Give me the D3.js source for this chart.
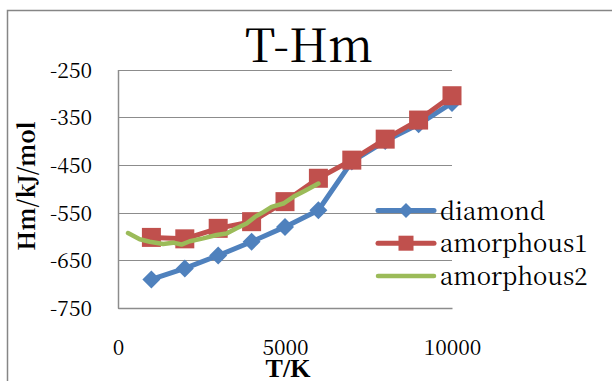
<!DOCTYPE html>
<html>
<head>
<meta charset="utf-8">
<script src="https://cdn.jsdelivr.net/npm/d3@7"></script>
<style>
  body { margin: 0; background: #fff; }
  svg { display: block; }
</style>
</head>
<body>
<div id="chart"></div>
<script>
// data
const diamondT = [1000, 2000, 3000, 4000, 5000, 6000, 7000, 8000, 9000, 10000];
const diamondHm = [-690, -667, -640, -611, -580, -545, -443, -400, -365, -320];

const amorph1T = [1000, 2000, 3000, 4000, 5000, 6000, 7000, 8000, 9000, 10000];
const amorph1Hm = [-602, -605, -583, -569, -527, -478, -440, -396, -356, -305];

const amorph2T = [300, 650, 950, 1350, 1650, 1900, 2150, 2550, 2950, 3250, 3550, 3850, 4100, 4350, 4600, 4950, 5250, 5600, 6000];
const amorph2Hm = [-593, -606, -611, -616, -613, -617, -610, -604, -597, -594, -583, -573, -559, -549, -538, -531, -517, -504, -489];

const xTicks = [0, 5000, 10000];
const yTicks = [-250, -350, -450, -550, -650, -750];

const series = [
  { name: "diamond", color: "#4F81BD", marker: "diamond", width: 5, t: diamondT, v: diamondHm },
  { name: "amorphous1", color: "#C0504D", marker: "square", width: 5, t: amorph1T, v: amorph1Hm },
  { name: "amorphous2", color: "#9BBB59", marker: null, width: 4.5, t: amorph2T, v: amorph2Hm }
];

const FONT = "Noto Serif CJK JP";

//size
const width = 612;
const height = 381;
const plot = { left: 118, right: 452, top: 69.5, bottom: 308 };

//scales
const xScale = d3.scaleLinear().domain([0, 10000]).range([plot.left, plot.right]);
const yScale = d3.scaleLinear().domain([-750, -250]).range([plot.bottom, plot.top]);

const svg = d3.select("#chart")
  .append("svg")
  .attr("width", width)
  .attr("height", height);

// shrink/grow font so text is about as wide as in the picture
function fitText(sel, target, base, maxSize) {
  sel.attr("font-size", base);
  const w = sel.node().getComputedTextLength();
  if (w > 0) sel.attr("font-size", Math.min(maxSize, base * target / w));
  return sel;
}

// chart frame (cut at right/bottom)
svg.append("path")
  .attr("d", `M7.5,${height} V10.5 H${width}`)
  .attr("fill", "none")
  .attr("stroke", "#868686")
  .attr("stroke-width", 1.5);

// title
fitText(svg.append("text")
  .attr("x", 309)
  .attr("y", 62)
  .attr("text-anchor", "middle")
  .attr("font-family", FONT)
  .attr("fill", "#000")
  .text("T-Hm"), 128, 48, 52);

// gridlines
svg.append("g")
  .selectAll("line")
  .data(yTicks)
  .join("line")
  .attr("x1", plot.left)
  .attr("x2", plot.right)
  .attr("y1", (d) => Math.round(yScale(d)) + 0.5)
  .attr("y2", (d) => Math.round(yScale(d)) + 0.5)
  .attr("stroke", "#8c8c8c")
  .attr("stroke-width", 1);

// y axis
svg.append("g")
  .attr("transform", `translate(${plot.left},0)`)
  .call(d3.axisLeft(yScale).tickValues(yTicks).tickSize(0).tickPadding(26)
    .tickFormat((d) => String(d).replace("\u2212", "-")))
  .call((g) => {
    g.attr("font-family", FONT);
    g.select(".domain").attr("stroke", "#8c8c8c").attr("stroke-width", 1.5);
    g.selectAll("text")
      .attr("font-family", FONT)
      .attr("font-size", 21)
      .attr("fill", "#000")
      .attr("dy", "0.36em");
  });

// x axis
svg.append("g")
  .attr("transform", `translate(0,${plot.bottom})`)
  .call(d3.axisBottom(xScale).tickValues(xTicks).tickSize(0).tickPadding(32)
    .tickFormat(d3.format("d")))
  .call((g) => {
    g.attr("font-family", FONT);
    g.select(".domain").attr("stroke", "#8c8c8c").attr("stroke-width", 1.5);
    g.selectAll("text")
      .attr("font-family", FONT)
      .attr("font-size", 21)
      .attr("fill", "#000");
  });

// axis titles
fitText(svg.append("text")
  .attr("transform", "translate(35,186) rotate(-90)")
  .attr("text-anchor", "middle")
  .attr("font-family", FONT)
  .attr("font-weight", "bold")
  .text("Hm/kJ/mol"), 143, 21, 23);

fitText(svg.append("text")
  .attr("x", 288)
  .attr("y", 377)
  .attr("text-anchor", "middle")
  .attr("font-family", "Liberation Serif")
  .attr("font-weight", "bold")
  .text("T/K"), 47, 24, 26);

// lines + markers
const line = d3.line()
  .x((d) => xScale(d[0]))
  .y((d) => yScale(d[1]));

function drawMarker(g, type, color, x, y, size) {
  if (type == "diamond") {
    g.append("path")
      .attr("d", `M${x},${y - size / 2} L${x + size / 2},${y} L${x},${y + size / 2} L${x - size / 2},${y} Z`)
      .attr("fill", color);
  } else if (type == "square") {
    g.append("rect")
      .attr("x", x - size / 2)
      .attr("y", y - size / 2)
      .attr("width", size)
      .attr("height", size)
      .attr("fill", color);
  }
}

series.forEach((s) => {
  const pts = s.t.map((t, i) => [t, s.v[i]]);
  const g = svg.append("g");
  g.append("path")
    .datum(pts)
    .attr("d", line)
    .attr("fill", "none")
    .attr("stroke", s.color)
    .attr("stroke-width", s.width)
    .attr("stroke-linejoin", "round")
    .attr("stroke-linecap", "round");
  pts.forEach((p) => {
    drawMarker(g, s.marker, s.color, xScale(p[0]), yScale(p[1]), s.marker == "square" ? 19 : 18);
  });
});

// legend
const legend = svg.append("g");
series.forEach((s, i) => {
  const y = 210.5 + i * 32.7;
  legend.append("line")
    .attr("x1", 378)
    .attr("x2", 434)
    .attr("y1", y)
    .attr("y2", y)
    .attr("stroke", s.color)
    .attr("stroke-width", s.width)
    .attr("stroke-linecap", "round");
  drawMarker(legend, s.marker, s.color, 406, y, 15);
  legend.append("text")
    .attr("x", 440)
    .attr("y", y + 9)
    .attr("font-family", FONT)
    .attr("font-size", 24)
    .attr("fill", "#000")
    .text(s.name);
});
</script>
</body>
</html>
